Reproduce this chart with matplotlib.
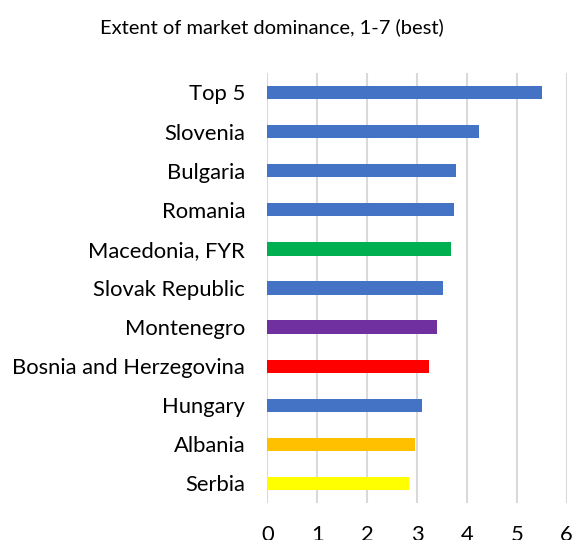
import matplotlib
matplotlib.use("Agg")
import matplotlib.pyplot as plt

categories = ["Top 5", "Slovenia", "Bulgaria", "Romania", "Macedonia, FYR",
              "Slovak Republic", "Montenegro", "Bosnia and Herzegovina",
              "Hungary", "Albania", "Serbia"]
values = [5.50, 4.24, 3.79, 3.75, 3.69, 3.53, 3.41, 3.25, 3.11, 2.95, 2.84]
colors = ["#4472C4", "#4472C4", "#4472C4", "#4472C4", "#00B050",
          "#4472C4", "#7030A0", "#FF0000", "#4472C4", "#FFC000", "#FFFF00"]
xticks = [0, 1, 2, 3, 4, 5, 6]
title = "Extent of market dominance, 1-7 (best)"

plt.rcParams['font.family'] = ['Lato', 'DejaVu Sans']

fig = plt.figure(figsize=(5.73, 5.40), dpi=100)
ax = fig.add_axes([0.4665, 0.0685, 0.5225, 0.7965])

y = list(range(len(categories)))[::-1]
ax.barh(y, values, height=0.34, color=colors, zorder=3)
ax.set_ylim(-0.5, len(categories) - 0.5)
ax.set_xlim(0, 6)
ax.set_xticks(xticks)
ax.set_yticks(y)
ax.set_yticklabels(categories)
ax.tick_params(axis='both', length=0, labelsize=15.8, colors="#000000")
ax.tick_params(axis='x', pad=16)
ax.tick_params(axis='y', pad=16)
ax.xaxis.grid(True, color="#D9D9D9", linewidth=1.5, zorder=0)
for s in ax.spines.values():
    s.set_visible(False)

fig.text(0.474, 0.950, title, ha='center', va='center', fontsize=14.5, color="#000000")

fig.savefig("out.png", dpi=100)
